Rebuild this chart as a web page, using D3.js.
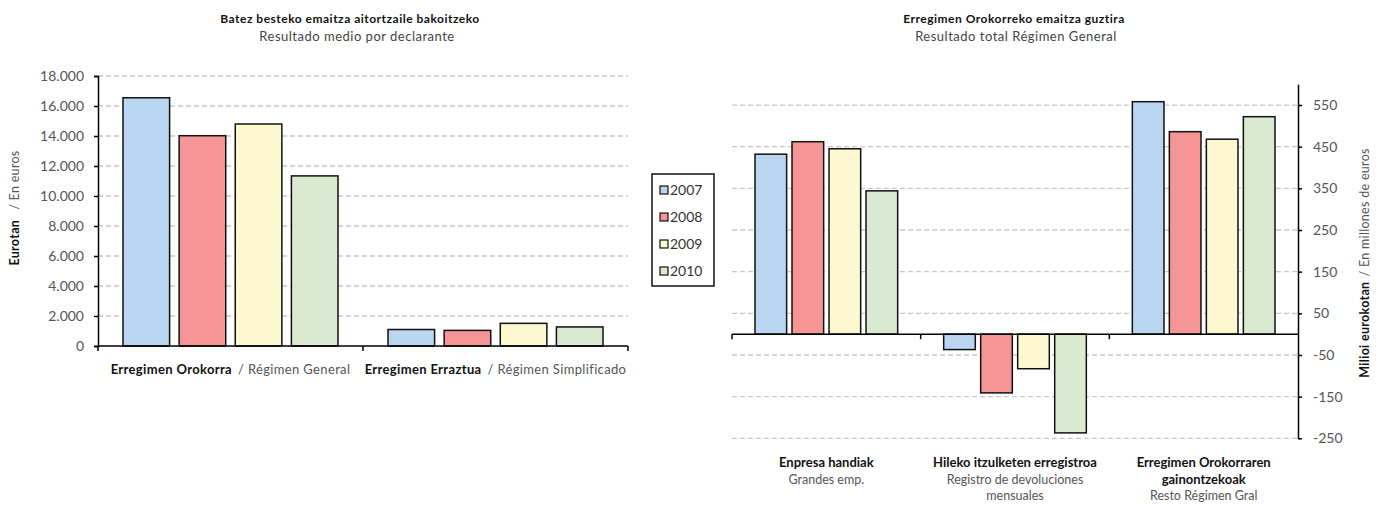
<!DOCTYPE html>
<html>
<head>
<meta charset="utf-8">
<script src="https://cdn.jsdelivr.net/npm/d3@7"></script>
<style>
  html, body { margin: 0; padding: 0; background: #fff; }
  svg { display: block; font-family: Lato, "Open Sans", sans-serif; }
</style>
</head>
<body>
<svg id="chart" width="1383" height="505"></svg>
<script>
// ---------- DATA ----------
const years = ["2007", "2008", "2009", "2010"];
const colors = ["#b9d5f0", "#f59595", "#fcf8cf", "#d9ead0"];

// Left chart: average result per declarant (euros)
const leftCategories = [
  { bold: "Erregimen Orokorra", normal: "/ Régimen General" },
  { bold: "Erregimen Erraztua", normal: "/ Régimen Simplificado" }
];
const leftValues2007 = [16550, 1100];
const leftValues2008 = [14020, 1040];
const leftValues2009 = [14800, 1510];
const leftValues2010 = [11340, 1270];
const leftTicks = [0, 2000, 4000, 6000, 8000, 10000, 12000, 14000, 16000, 18000];

// Right chart: total result, Régimen General (millions of euros)
const rightCategories = [
  { bold: ["Enpresa handiak"], normal: ["Grandes emp."] },
  { bold: ["Hileko itzulketen erregistroa"], normal: ["Registro de devoluciones", "mensuales"] },
  { bold: ["Erregimen Orokorraren", "gainontzekoak"], normal: ["Resto Régimen Gral"] }
];
const rightValues2007 = [432, -37, 558];
const rightValues2008 = [462, -141, 486];
const rightValues2009 = [445, -83, 468];
const rightValues2010 = [344, -237, 522];
const rightTicks = [-250, -150, -50, 50, 150, 250, 350, 450, 550];

// ---------- DRAW ----------
const svg = d3.select("#chart");
const fmtDot = v => d3.format(",")(v).replace(/,/g, ".");
const gridColor = "#c8c8c8";
const textGray = "#555";

// ===== LEFT CHART =====
(function () {
  const L = { left: 98, right: 628, top: 76, bottom: 346 };
  const seriesVals = [leftValues2007, leftValues2008, leftValues2009, leftValues2010];
  const x0 = d3.scaleBand().domain(d3.range(leftCategories.length)).range([L.left, L.right]).padding(0);
  const x1 = d3.scaleBand().domain(years).range([25, x0.bandwidth() - 25]).paddingInner(0.17).paddingOuter(0);
  const y = d3.scaleLinear().domain([0, 18000]).range([L.bottom, L.top]);

  const g = svg.append("g");

  g.selectAll("line.grid").data(leftTicks.filter(t => t > 0)).join("line")
    .attr("x1", L.left).attr("x2", L.right)
    .attr("y1", d => y(d)).attr("y2", d => y(d))
    .attr("stroke", gridColor).attr("stroke-width", 1.3).attr("stroke-dasharray", "5,3");

  leftCategories.forEach((c, i) => {
    years.forEach((yr, j) => {
      const v = seriesVals[j][i];
      g.append("rect")
        .attr("x", x0(i) + x1(yr)).attr("width", x1.bandwidth())
        .attr("y", y(v)).attr("height", y(0) - y(v))
        .attr("fill", colors[j]).attr("stroke", "#111").attr("stroke-width", 1.5);
    });
  });

  const ya = g.append("g").attr("transform", `translate(${L.left},0)`)
    .call(d3.axisLeft(y).tickValues(leftTicks).tickFormat(fmtDot).tickSize(4).tickPadding(10));
  ya.select(".domain").attr("stroke", "#000").attr("stroke-width", 1.5);
  ya.selectAll(".tick line").attr("stroke", "#000").attr("stroke-width", 1.5);
  ya.selectAll(".tick text").attr("fill", textGray).style("font-size", "14px").style("font-family", "Lato, sans-serif");

  g.append("line").attr("x1", L.left).attr("x2", L.right).attr("y1", y(0)).attr("y2", y(0))
    .attr("stroke", "#000").attr("stroke-width", 1.5);
  const bounds = [L.left].concat(leftCategories.map((c, i) => x0(i) + x0.bandwidth()));
  g.selectAll("line.xt").data(bounds).join("line")
    .attr("x1", d => d).attr("x2", d => d).attr("y1", y(0)).attr("y2", y(0) + 5)
    .attr("stroke", "#000").attr("stroke-width", 1.5);

  leftCategories.forEach((c, i) => {
    const t = g.append("text").attr("x", x0(i) + x0.bandwidth() / 2).attr("y", 374)
      .attr("text-anchor", "middle").style("font-size", "13px").style("letter-spacing", "0.35px");
    t.append("tspan").attr("font-weight", "bold").attr("fill", "#111").text(c.bold);
    t.append("tspan").attr("fill", textGray).attr("dx", 6).text(c.normal);
  });

  const yt = g.append("text").attr("transform", `translate(19,208) rotate(-90)`)
    .attr("text-anchor", "middle").style("font-size", "12.5px").style("letter-spacing", "0.3px");
  yt.append("tspan").attr("font-weight", "bold").attr("fill", "#111").text("Eurotan");
  yt.append("tspan").attr("fill", textGray).attr("dx", 10).text("/ En euros");

  g.append("text").attr("x", 350).attr("y", 23).attr("text-anchor", "middle")
    .attr("font-weight", "bold").attr("fill", "#111").style("font-size", "12px").style("letter-spacing", "0.5px")
    .text("Batez besteko emaitza aitortzaile bakoitzeko");
  g.append("text").attr("x", 357).attr("y", 41).attr("text-anchor", "middle")
    .attr("fill", "#444").style("font-size", "13px").style("letter-spacing", "0.5px")
    .text("Resultado medio por declarante");
})();

// ===== LEGEND =====
(function () {
  const g = svg.append("g");
  g.append("rect").attr("x", 652).attr("y", 174).attr("width", 62).attr("height", 112)
    .attr("fill", "#fff").attr("stroke", "#111").attr("stroke-width", 1.5);
  years.forEach((yr, j) => {
    const cy = 190 + j * 27;
    g.append("rect").attr("x", 660).attr("y", cy - 4).attr("width", 8).attr("height", 8)
      .attr("fill", colors[j]).attr("stroke", "#111").attr("stroke-width", 1.2);
    g.append("text").attr("x", 670).attr("y", cy).attr("dy", "0.35em")
      .attr("fill", "#333").style("font-size", "14px").text(yr);
  });
})();

// ===== RIGHT CHART =====
(function () {
  const R = { left: 732, right: 1298 };
  const seriesVals = [rightValues2007, rightValues2008, rightValues2009, rightValues2010];
  const x0 = d3.scaleBand().domain(d3.range(rightCategories.length)).range([R.left, R.right]).padding(0);
  const x1 = d3.scaleBand().domain(years).range([23, x0.bandwidth() - 23]).paddingInner(0.145).paddingOuter(0);
  const y = d3.scaleLinear().domain([-250, 600]).range([438.3, 84.2]);

  const g = svg.append("g");

  g.selectAll("line.grid").data(rightTicks).join("line")
    .attr("x1", R.left).attr("x2", R.right)
    .attr("y1", d => y(d)).attr("y2", d => y(d))
    .attr("stroke", gridColor).attr("stroke-width", 1.3).attr("stroke-dasharray", "5,3");

  rightCategories.forEach((c, i) => {
    years.forEach((yr, j) => {
      const v = seriesVals[j][i];
      g.append("rect")
        .attr("x", x0(i) + x1(yr)).attr("width", x1.bandwidth())
        .attr("y", y(Math.max(0, v))).attr("height", Math.abs(y(v) - y(0)))
        .attr("fill", colors[j]).attr("stroke", "#111").attr("stroke-width", 1.5);
    });
  });

  g.append("line").attr("x1", R.left).attr("x2", R.right).attr("y1", y(0)).attr("y2", y(0))
    .attr("stroke", "#000").attr("stroke-width", 1.5);
  const bounds = [R.left].concat(rightCategories.slice(0, -1).map((c, i) => x0(i) + x0.bandwidth()));
  g.selectAll("line.xt").data(bounds).join("line")
    .attr("x1", d => d).attr("x2", d => d).attr("y1", y(0)).attr("y2", y(0) + 5)
    .attr("stroke", "#000").attr("stroke-width", 1.5);

  const ya = g.append("g").attr("transform", `translate(${R.right},0)`)
    .call(d3.axisRight(y).tickValues(rightTicks).tickFormat(d => String(d)).tickSize(4).tickPadding(11).tickSizeOuter(0));
  ya.select(".domain").attr("stroke", "#000").attr("stroke-width", 1.5);
  ya.selectAll(".tick line").attr("stroke", "#000").attr("stroke-width", 1.5);
  ya.selectAll(".tick text").attr("fill", textGray).style("font-size", "14px").style("font-family", "Lato, sans-serif");

  rightCategories.forEach((c, i) => {
    const cx = x0(i) + x0.bandwidth() / 2;
    const lines = c.bold.map(s => ({ s, b: true })).concat(c.normal.map(s => ({ s, b: false })));
    lines.forEach((ln, k) => {
      g.append("text").attr("x", cx).attr("y", 467 + k * 16.5).attr("text-anchor", "middle")
        .attr("font-weight", ln.b ? "bold" : "normal").attr("fill", ln.b ? "#111" : textGray)
        .style("font-size", ln.b ? "13px" : "12.5px").text(ln.s);
    });
  });

  const yt = g.append("text").attr("transform", `translate(1369,263) rotate(-90)`)
    .attr("text-anchor", "middle").style("font-size", "12.5px").style("letter-spacing", "0.3px");
  yt.append("tspan").attr("font-weight", "bold").attr("fill", "#111").text("Milioi eurokotan");
  yt.append("tspan").attr("fill", textGray).attr("dx", 5).text("/ En millones de euros");

  g.append("text").attr("x", 1014).attr("y", 23).attr("text-anchor", "middle")
    .attr("font-weight", "bold").attr("fill", "#111").style("font-size", "12px").style("letter-spacing", "0.5px")
    .text("Erregimen Orokorreko emaitza guztira");
  g.append("text").attr("x", 1016).attr("y", 41).attr("text-anchor", "middle")
    .attr("fill", "#444").style("font-size", "13px").style("letter-spacing", "0.5px")
    .text("Resultado total Régimen General");
})();
</script>
</body>
</html>
